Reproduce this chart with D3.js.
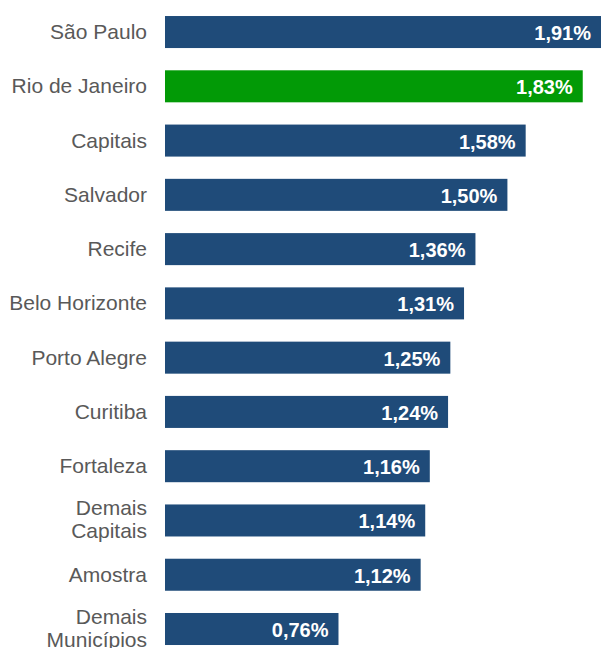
<!DOCTYPE html>
<html>
<head>
<meta charset="utf-8">
<script src="https://cdn.jsdelivr.net/npm/d3@7"></script>
<style>
  body { margin: 0; background: #fff; }
  svg { display: block; }
  .label { font-family: "Liberation Sans", Arial, sans-serif; fill: #595959; }
  .value { font-family: "Liberation Sans", Arial, sans-serif; font-weight: bold; fill: #fff; }
</style>
</head>
<body>
<script>
var categories = [
  'São Paulo', 'Rio de Janeiro', 'Capitais', 'Salvador', 'Recife',
  'Belo Horizonte', 'Porto Alegre', 'Curitiba', 'Fortaleza',
  'Demais Capitais', 'Amostra', 'Demais Municípios'
];
var values = [1.91, 1.83, 1.58, 1.50, 1.36, 1.31, 1.25, 1.24, 1.16, 1.14, 1.12, 0.76];
var highlight = ['Rio de Janeiro'];

var width = 603, height = 648;
var left = 165;

var data = categories.map(function(c, i) { return { name: c, value: values[i] }; });

var x = d3.scaleLinear()
    .domain([0, 1.91])
    .range([left, 601]);

var y = d3.scaleBand()
    .domain(categories)
    .range([4.9, 4.9 + 12 * 54.27])
    .paddingInner(0.41)
    .paddingOuter(0.205);

var svg = d3.select('body').append('svg')
    .attr('width', width)
    .attr('height', height);

svg.selectAll('rect.bar')
    .data(data)
    .enter()
    .append('rect')
    .attr('class', 'bar')
    .attr('x', x(0))
    .attr('y', function(d) { return y(d.name); })
    .attr('width', function(d) { return x(d.value) - x(0); })
    .attr('height', y.bandwidth())
    .attr('fill', function(d) { return highlight.indexOf(d.name) >= 0 ? '#029a06' : '#1f4b79'; });

var fmt = function(v) { return v.toFixed(2).replace('.', ',') + '%'; };

svg.selectAll('text.value')
    .data(data)
    .enter()
    .append('text')
    .attr('class', 'value')
    .attr('text-anchor', 'end')
    .attr('font-size', 20)
    .attr('x', function(d) { return x(d.value) - 10; })
    .attr('y', function(d) { return y(d.name) + y.bandwidth() / 2 + 8; })
    .text(function(d) { return fmt(d.value); });

// category labels, the "Demais ..." ones wrap to two lines
svg.selectAll('text.label')
    .data(data)
    .enter()
    .append('text')
    .attr('class', 'label')
    .attr('text-anchor', 'end')
    .attr('font-size', 21)
    .attr('transform', function(d) {
      return 'translate(147,' + (y(d.name) + y.bandwidth() / 2) + ')';
    })
    .each(function(d) {
      var t = d3.select(this);
      var words = d.name.indexOf('Demais') === 0 ? d.name.split(' ') : [d.name];
      var lh = 23;
      var start = words.length > 1 ? -5 : 7;
      words.forEach(function(w, i) {
        t.append('tspan')
            .attr('x', 0)
            .attr('y', start + i * lh)
            .text(w);
      });
    });
</script>
</body>
</html>
